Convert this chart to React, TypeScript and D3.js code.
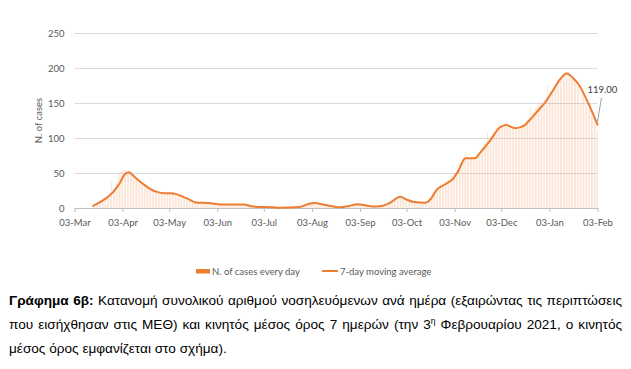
import React, { useEffect, useRef } from 'react'
import * as d3 from 'd3'

// daily hospitalised cases (bars), first value = 15 March 2020
const firstDay = '2020-03-15'
const casesMar = [2, 3, 4, 6, 8, 10, 12, 14, 15, 17, 19, 22, 38, 26, 30, 36, 44]
const casesApr = [48, 52, 55, 54, 53, 52, 50, 49, 47, 45, 43, 41, 39, 38, 36, 34, 33, 31, 29, 28, 27, 25, 24, 23, 22, 22, 21, 21, 22, 21]
const casesMay = [21, 22, 21, 20, 21, 20, 19, 18, 19, 17, 16, 15, 14, 13, 11, 10, 9, 8, 8, 7, 7, 8, 7, 7, 6, 7, 8, 7, 7, 6, 6]
const casesJun = [5, 6, 5, 5, 4, 5, 6, 5, 5, 4, 5, 5, 6, 5, 4, 5, 5, 4, 5, 6, 4, 3, 2, 2, 2, 1, 2, 2, 1, 1]
const casesJul = [1, 1, 2, 1, 1, 1, 1, 1, 1, 0, 0, 1, 0, 0, 1, 0, 1, 1, 1, 2, 1, 1, 2, 1, 2, 1, 2, 3, 4, 5, 6]
const casesAug = [7, 7, 8, 7, 7, 6, 7, 6, 5, 5, 5, 4, 4, 3, 3, 3, 2, 2, 1, 1, 1, 1, 2, 2, 3, 3, 3, 4, 5, 5, 6]
const casesSep = [6, 5, 5, 4, 4, 4, 3, 3, 2, 2, 2, 2, 2, 3, 3, 3, 4, 5, 6, 7, 8, 9, 11, 13, 15, 16, 17, 17, 16, 14]
const casesOct = [13, 12, 11, 10, 9, 9, 8, 8, 8, 7, 7, 8, 7, 7, 8, 9, 11, 14, 18, 22, 25, 28, 30, 31, 33, 34, 35, 37, 39, 41, 44]
const casesNov = [46, 48, 50, 52, 55, 60, 65, 70, 74, 80, 72, 70, 71, 72, 71, 72, 73, 76, 79, 83, 88, 92, 96, 109, 100, 98, 102, 108, 111, 114]
const casesDec = [116, 118, 117, 119, 118, 121, 118, 116, 114, 113, 114, 112, 114, 116, 117, 118, 119, 121, 124, 127, 130, 145, 134, 140, 143, 146, 148, 150, 151, 152, 155]
const casesJan = [158, 175, 162, 165, 168, 172, 176, 180, 184, 186, 188, 193, 192, 194, 191, 189, 186, 185, 180, 178, 176, 176, 150, 170, 162, 155, 150, 138, 144, 135, 130]
const casesFeb = [126, 122, 111]

// 7-day moving average
const avgDates = [
  '2020-03-15', '2020-03-20', '2020-03-24', '2020-03-28', '2020-04-01', '2020-04-04', '2020-04-07', '2020-04-10',
  '2020-04-13', '2020-04-17', '2020-04-21', '2020-04-25', '2020-04-30', '2020-05-04', '2020-05-08', '2020-05-12',
  '2020-05-16', '2020-05-20', '2020-05-29', '2020-06-05', '2020-06-20', '2020-06-26', '2020-07-09', '2020-07-13',
  '2020-07-26', '2020-08-02', '2020-08-05', '2020-08-10', '2020-08-15', '2020-08-21', '2020-08-27', '2020-09-01',
  '2020-09-06', '2020-09-11', '2020-09-17', '2020-09-22', '2020-09-29', '2020-10-03', '2020-10-07', '2020-10-15',
  '2020-10-19', '2020-10-22', '2020-10-28', '2020-11-02', '2020-11-05', '2020-11-10', '2020-11-16', '2020-11-19',
  '2020-11-26', '2020-12-02', '2020-12-06', '2020-12-12', '2020-12-18', '2020-12-21', '2020-12-27', '2020-12-31',
  '2021-01-05', '2021-01-10', '2021-01-14', '2021-01-19', '2021-01-22', '2021-01-28', '2021-02-03'
]
const avgValues = [
  3, 9, 15, 23, 35, 47, 51, 46,
  40, 33, 27, 23, 21, 21, 19.5, 16,
  12, 8, 7, 5, 5, 2, 1, 0.5,
  1.5, 6.5, 7, 5, 3, 1, 3, 5.5,
  4, 2, 3, 7, 16, 12, 9, 7.5,
  14, 25, 34, 42, 52, 71, 71, 78,
  97, 115, 118.5, 114, 118, 125, 140, 150,
  167, 184, 192, 184, 176, 150, 119
]

const yTicks = [0, 50, 100, 150, 200, 250]
const monthTicks = [
  '2020-03-03', '2020-04-03', '2020-05-03', '2020-06-03', '2020-07-03', '2020-08-03', '2020-09-03',
  '2020-10-03', '2020-11-03', '2020-12-03', '2021-01-03', '2021-02-03'
]
const lastLabel = '119.00'
const yTitle = 'N. of cases'
const legendBar = 'N. of cases every day'
const legendLine = '7-day moving average'

type Word = { t: string, bold?: boolean, sup?: string }
const captionLines: Word[][] = [
  [{ t: 'Γράφημα', bold: true }, { t: '6β:', bold: true }, { t: 'Κατανομή' }, { t: 'συνολικού' }, { t: 'αριθμού' },
   { t: 'νοσηλευόμενων' }, { t: 'ανά' }, { t: 'ημέρα' }, { t: '(εξαιρώντας' }, { t: 'τις' }, { t: 'περιπτώσεις' }],
  [{ t: 'που' }, { t: 'εισήχθησαν' }, { t: 'στις' }, { t: 'ΜΕΘ)' }, { t: 'και' }, { t: 'κινητός' }, { t: 'μέσος' },
   { t: 'όρος' }, { t: '7' }, { t: 'ημερών' }, { t: '(την' }, { t: '3', sup: 'η' }, { t: 'Φεβρουαρίου' }, { t: '2021,' },
   { t: 'ο' }, { t: 'κινητός' }],
  [{ t: 'μέσος' }, { t: 'όρος' }, { t: 'εμφανίζεται' }, { t: 'στο' }, { t: 'σχήμα).' }]
]

const orange = '#ED7D31'
const chartFont = 'Lato, sans-serif'

export default function App() {
  const ref = useRef<SVGSVGElement>(null)

  useEffect(() => {
    const svg = d3.select(ref.current)
    svg.selectAll('*').remove()

    const parse = d3.timeParse('%Y-%m-%d')
    const start = parse(firstDay)!
    const daily = [...casesMar, ...casesApr, ...casesMay, ...casesJun, ...casesJul, ...casesAug,
      ...casesSep, ...casesOct, ...casesNov, ...casesDec, ...casesJan, ...casesFeb]
      .map((v, i) => ({ date: d3.timeDay.offset(start, i), v }))
    const avg = avgDates.map((d, i) => ({ date: parse(d)!, v: avgValues[i] }))

    const x = d3.scaleTime()
      .domain([parse(monthTicks[0])!, parse(monthTicks[monthTicks.length - 1])!])
      .range([74.5, 597.5])
    const y = d3.scaleLinear().domain([0, 250]).range([208, 33])

    // grid + y labels
    const yAxis = d3.axisLeft(y)
      .tickValues(yTicks)
      .tickSize(-(x.range()[1] - x.range()[0]))
      .tickPadding(10)
    const gy = svg.append('g').attr('transform', `translate(${x.range()[0]},0)`).call(yAxis)
    gy.select('.domain').remove()
    gy.selectAll('line').attr('stroke', '#d9d9d9').attr('stroke-width', 1)
    gy.selectAll('text').attr('fill', '#595959').style('font', `9.5px ${chartFont}`)

    // bars
    svg.append('g').selectAll('rect').data(daily).join('rect')
      .attr('x', d => x(d.date) - 0.3)
      .attr('width', 0.6)
      .attr('y', d => y(d.v))
      .attr('height', d => y(0) - y(d.v))
      .attr('fill', '#f4b183')
      .attr('opacity', 0.55)

    // x axis
    const xAxis = d3.axisBottom(x)
      .tickValues(monthTicks.map(d => parse(d)!))
      .tickFormat(d3.timeFormat('%d-%b') as any)
      .tickSize(4)
      .tickSizeOuter(0)
      .tickPadding(7)
    const gx = svg.append('g').attr('transform', `translate(0,${y(0)})`).call(xAxis)
    gx.select('.domain').attr('stroke', '#bfbfbf')
    gx.selectAll('line').attr('stroke', '#bfbfbf')
    gx.selectAll('text').attr('fill', '#595959').style('font', `9.5px ${chartFont}`)

    // moving average
    const line = d3.line<{ date: Date, v: number }>()
      .x(d => x(d.date))
      .y(d => y(d.v))
      .curve(d3.curveMonotoneX)
    svg.append('path').datum(avg)
      .attr('d', line)
      .attr('fill', 'none')
      .attr('stroke', orange)
      .attr('stroke-width', 2)
      .attr('stroke-linejoin', 'round')
      .attr('stroke-linecap', 'round')

    // data label with leader line
    const last = avg[avg.length - 1]
    const lx = x(last.date), ly = y(last.v)
    svg.append('line')
      .attr('x1', lx).attr('y1', ly - 3)
      .attr('x2', lx + 4).attr('y2', ly - 27)
      .attr('stroke', '#7f7f7f').attr('stroke-width', 0.75)
    svg.append('text')
      .attr('x', lx - 10).attr('y', ly - 32)
      .attr('fill', '#404040')
      .style('font', `9.5px ${chartFont}`)
      .text(lastLabel)

    // y title
    svg.append('text')
      .attr('transform', `translate(42,${(y(0) + y(250)) / 2}) rotate(-90)`)
      .attr('text-anchor', 'middle')
      .attr('fill', '#595959')
      .style('font', `9.5px ${chartFont}`)
      .text(yTitle)

    // legend
    const lg = svg.append('g').style('font', `9.5px ${chartFont}`).attr('fill', '#595959')
    lg.append('rect').attr('x', 196).attr('y', 269).attr('width', 14).attr('height', 4.5).attr('fill', orange)
    lg.append('text').attr('x', 212).attr('y', 274.5).text(legendBar)
    lg.append('line').attr('x1', 322).attr('x2', 338).attr('y1', 271).attr('y2', 271)
      .attr('stroke', orange).attr('stroke-width', 2)
    lg.append('text').attr('x', 340).attr('y', 274.5).text(legendLine)

    // caption, first two lines justified
    const left = 9, right = 622
    captionLines.forEach((words, li) => {
      const g = svg.append('g').style('font', '13.6px "Liberation Sans", Arial, sans-serif').attr('fill', '#000')
      const texts = g.selectAll('text').data(words).join('text')
        .attr('y', 305 + li * 24)
        .attr('font-weight', d => d.bold ? 'bold' : 'normal')
      texts.each(function (d) {
        const t = d3.select(this)
        t.append('tspan').text(d.t)
        if (d.sup) t.append('tspan').attr('dy', -5).attr('font-size', 8.5).text(d.sup)
      })
      const nodes = texts.nodes() as SVGTextElement[]
      const widths = nodes.map(n => n.getComputedTextLength())
      const total = d3.sum(widths)
      const space = li < 2 ? (right - left - total) / (nodes.length - 1) : 3.8
      let cx = left
      nodes.forEach((n, i) => {
        d3.select(n).attr('x', cx)
        cx += widths[i] + space
      })
    })
  }, [])

  return (
    <svg ref={ref} width={631} height={369}
      style={{ position: 'absolute', left: 0, top: 0, background: '#fff' }} />
  )
}
